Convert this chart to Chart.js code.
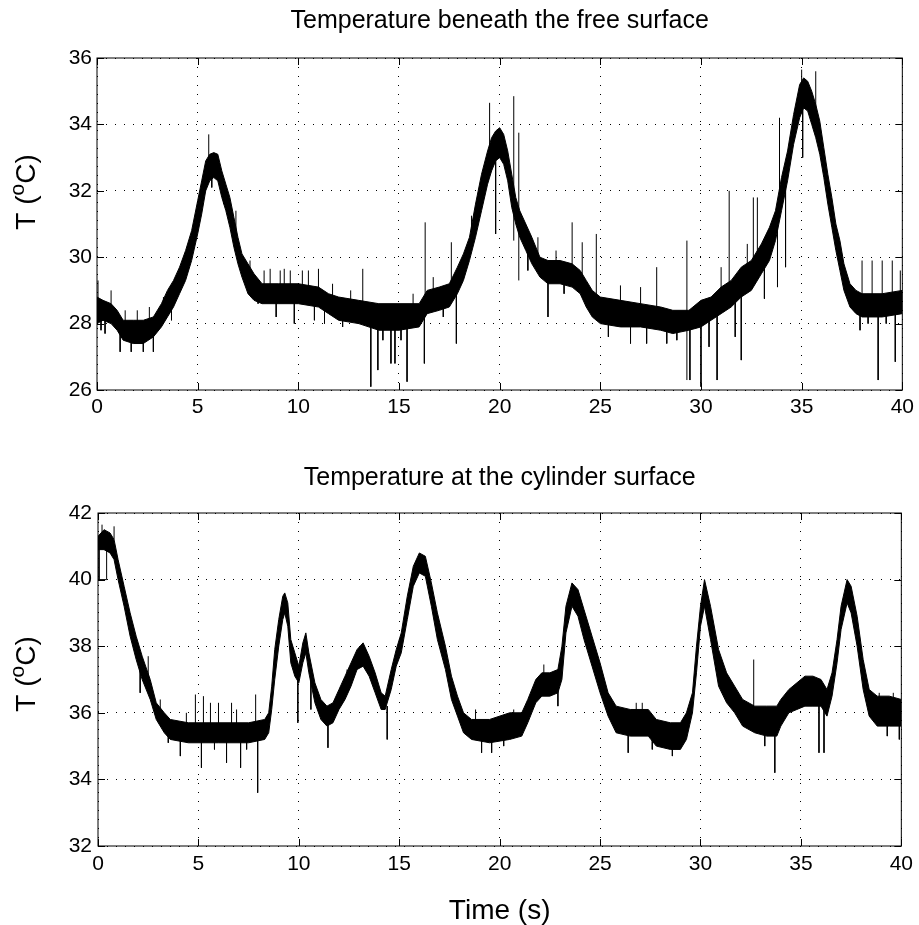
<!DOCTYPE html>
<html>
<head>
<meta charset="utf-8">
<script src="https://cdn.jsdelivr.net/npm/chart.js@4"></script>
<style>
  body { margin: 0; background: #fff; }
  .box { position: absolute; left: 0; width: 919px; }
</style>
</head>
<body>
<div class="box" style="top:0;height:440px"><canvas id="surfChart"></canvas></div>
<div class="box" style="top:440px;height:485px"><canvas id="cylChart"></canvas></div>
<script>
// tick values
const timeTicks = [0, 5, 10, 15, 20, 25, 30, 35, 40];
const surfTempTicks = [26, 28, 30, 32, 34, 36];
const cylTempTicks = [32, 34, 36, 38, 40, 42];

// temperature beneath the free surface: lower / upper edge of the noisy trace
const surfTime = [0, 0.3, 0.7, 1.0, 1.3, 1.8, 2.3, 2.8, 3.2, 3.5, 3.8, 4.1, 4.4, 4.7, 5.0, 5.2, 5.4, 5.6, 5.8, 6.0,
  6.2, 6.4, 6.6, 6.8, 7.0, 7.2, 7.5, 7.8, 8.2, 9, 10, 11, 11.5, 12, 13, 14, 15, 16, 16.4, 17,
  17.5, 17.9, 18.2, 18.5, 18.8, 19.1, 19.4, 19.6, 19.8, 20.0, 20.2, 20.4, 20.6, 20.8, 21.0, 21.3, 21.6, 22.0, 22.4, 23,
  23.6, 24.0, 24.3, 24.6, 25, 26, 27, 28, 28.6, 29.4, 30, 30.5, 31, 31.5, 32, 32.5, 33, 33.4, 33.7, 34.0,
  34.3, 34.6, 34.9, 35.1, 35.3, 35.5, 35.7, 35.9, 36.1, 36.3, 36.5, 36.7, 36.9, 37.1, 37.4, 37.7, 38, 39, 40];
const surfLow = [28.0, 28.1, 28.0, 27.8, 27.5, 27.4, 27.4, 27.6, 27.9, 28.2, 28.5, 28.9, 29.3, 29.9, 30.7, 31.3, 32.0, 32.3, 32.4, 32.3,
  31.8, 31.4, 30.9, 30.3, 29.8, 29.4, 28.9, 28.7, 28.6, 28.6, 28.6, 28.5, 28.3, 28.1, 28.0, 27.8, 27.8, 27.9, 28.3, 28.4,
  28.5, 28.9, 29.3, 29.9, 30.6, 31.4, 32.2, 32.6, 32.9, 33.0, 32.8, 32.3, 31.5, 31.0, 30.6, 30.2, 29.8, 29.4, 29.2, 29.2,
  29.1, 28.9, 28.5, 28.2, 28.0, 27.9, 27.9, 27.8, 27.7, 27.8, 27.9, 28.1, 28.3, 28.5, 28.8, 29.0, 29.5, 29.9, 30.5, 31.4,
  32.3, 33.4, 34.2, 34.5, 34.4, 34.0, 33.6, 33.1, 32.4, 31.6, 30.9, 30.2, 29.6, 29.0, 28.5, 28.3, 28.2, 28.2, 28.3];
const surfHigh = [28.8, 28.7, 28.6, 28.4, 28.1, 28.1, 28.1, 28.2, 28.6, 29.0, 29.3, 29.7, 30.2, 30.8, 31.7, 32.3, 32.9, 33.1, 33.15, 33.1,
  32.6, 32.2, 31.8, 31.2, 30.6, 30.1, 29.8, 29.5, 29.2, 29.2, 29.2, 29.1, 28.9, 28.8, 28.7, 28.6, 28.6, 28.6, 29.0, 29.1,
  29.2, 29.7, 30.1, 30.6, 31.6, 32.5, 33.2, 33.6, 33.8, 33.9, 33.7, 33.2, 32.5, 31.8, 31.4, 31.0, 30.6, 30.0, 29.9, 29.9,
  29.8, 29.6, 29.3, 29.0, 28.8, 28.7, 28.6, 28.5, 28.4, 28.4, 28.7, 28.8, 29.1, 29.3, 29.7, 29.9, 30.4, 30.9, 31.4, 32.4,
  33.2, 34.3, 35.2, 35.4, 35.3, 35.0, 34.6, 34.1, 33.3, 32.5, 31.8, 31.0, 30.5, 29.8, 29.2, 29.0, 28.9, 28.9, 29.0];
// isolated spikes: [time, from, to]
const surfSpikes = [[0.05, 28.4, 29.3], [0.2, 28.4, 27.8], [0.4, 28.2, 27.7], [0.7, 28.4, 29.0], [1.15, 27.9, 27.15],
  [1.4, 27.8, 28.4], [1.7, 27.8, 27.15], [2.0, 27.8, 28.4], [2.3, 27.8, 27.15], [2.6, 27.8, 28.5],
  [2.8, 27.9, 27.15], [3.3, 28.3, 28.8], [3.7, 28.8, 28.1], [4.5, 29.7, 30.3], [5.55, 33.0, 33.7],
  [5.7, 32.7, 32.1], [6.3, 32.0, 31.6], [6.9, 30.6, 31.4], [7.6, 29.2, 29.9], [8.0, 29.0, 28.6],
  [8.3, 29.0, 29.6], [8.6, 28.9, 29.65], [8.9, 28.9, 28.2], [9.1, 28.9, 29.6], [9.3, 28.9, 29.65],
  [9.6, 28.9, 29.6], [9.8, 28.9, 28.0], [10.2, 28.9, 29.6], [10.5, 28.8, 29.6], [10.8, 28.7, 28.1],
  [11.0, 28.8, 29.65], [11.3, 28.6, 28.0], [11.7, 28.6, 29.2], [12.2, 28.5, 27.9], [12.6, 28.4, 29.0],
  [13.2, 28.3, 29.65], [13.6, 28.2, 26.1], [13.95, 28.2, 26.6], [14.2, 28.2, 27.5], [14.6, 28.2, 26.8],
  [14.8, 28.2, 26.8], [15.1, 28.2, 27.5], [15.4, 28.2, 26.25], [15.7, 28.3, 28.9], [16.26, 28.2, 26.8],
  [16.3, 28.5, 31.05], [16.7, 28.7, 29.4], [17.2, 28.8, 28.2], [17.6, 28.9, 30.45], [17.85, 29.2, 27.4],
  [18.6, 30.3, 31.25], [19.5, 32.8, 34.65], [19.8, 33.2, 30.7], [20.7, 30.5, 34.85], [20.95, 29.3, 33.75],
  [21.4, 30.6, 29.6], [21.9, 29.7, 30.6], [22.4, 29.5, 28.2], [22.8, 29.5, 30.2], [23.2, 29.5, 28.9],
  [23.6, 29.5, 31.05], [24.1, 29.3, 30.45], [24.8, 28.6, 30.7], [25.4, 28.3, 27.6], [26.0, 28.3, 29.15],
  [26.5, 28.0, 27.4], [27.0, 28.3, 29.1], [27.3, 28.0, 27.4], [27.8, 28.2, 29.7], [28.3, 28.0, 27.4],
  [28.8, 28.0, 27.5], [29.3, 26.3, 30.5], [29.45, 28.0, 26.3], [30.0, 28.2, 26.1], [30.4, 28.4, 27.3],
  [30.8, 28.3, 26.3], [31.0, 28.6, 29.7], [31.4, 28.8, 32.0], [31.7, 28.9, 27.6], [32.0, 29.1, 26.9],
  [32.3, 29.3, 30.4], [32.6, 29.3, 31.8], [32.8, 29.5, 31.8], [33.15, 29.9, 28.75], [33.8, 30.9, 29.1],
  [33.9, 31.8, 34.2], [34.2, 32.5, 29.7], [35.0, 34.8, 35.65], [35.05, 34.8, 33.0], [35.7, 34.0, 35.6],
  [37.9, 28.5, 27.8], [38.0, 28.6, 29.9], [38.3, 28.5, 28.0], [38.5, 28.6, 29.9], [38.8, 28.5, 26.3],
  [39.0, 28.6, 29.9], [39.2, 28.5, 28.0], [39.5, 28.6, 29.9], [39.65, 28.5, 26.85], [39.9, 28.6, 29.6]];

// temperature at the cylinder surface
const cylTime = [0, 0.3, 0.6, 0.8, 1.0, 1.3, 1.6, 1.9, 2.2, 2.6, 2.9, 3.3, 3.6, 4.5, 6, 7.5, 8.3, 8.5, 8.65, 8.8,
  9.0, 9.2, 9.3, 9.45, 9.6, 9.8, 10.0, 10.2, 10.35, 10.5, 10.8, 11.1, 11.4, 11.7, 12.0, 12.3, 12.6, 12.9, 13.2, 13.5,
  13.8, 14.1, 14.3, 14.6, 14.85, 15.1, 15.4, 15.7, 16.0, 16.3, 16.6, 16.9, 17.3, 17.6, 17.9, 18.2, 18.6, 19.5, 20.5, 21.1,
  21.4, 21.8, 22.1, 22.5, 22.9, 23.1, 23.3, 23.6, 23.9, 24.2, 24.6, 25.0, 25.4, 25.8, 26.5, 27.4, 27.8, 28.5, 29.0, 29.3,
  29.6, 29.8, 30.0, 30.2, 30.5, 30.9, 31.3, 31.7, 32.1, 32.7, 33.3, 33.8, 34.0, 34.4, 34.8, 35.2, 35.6, 36.0, 36.3, 36.55,
  36.8, 37.0, 37.3, 37.5, 37.8, 38.1, 38.4, 38.8, 39.4, 40.0];
const cylLow = [40.9, 40.9, 40.8, 40.6, 40.0, 39.2, 38.3, 37.6, 37.0, 36.4, 35.8, 35.4, 35.2, 35.1, 35.1, 35.1, 35.2, 35.4, 36.1, 37.0,
  38.0, 38.8, 39.0, 38.6, 37.5, 37.1, 36.9, 37.5, 37.8, 37.2, 36.3, 35.8, 35.6, 35.7, 36.1, 36.4, 36.8, 37.3, 37.4, 37.1,
  36.6, 36.1, 36.1, 36.7, 37.4, 37.8, 38.8, 39.8, 40.2, 40.1, 39.2, 38.2, 37.3, 36.4, 35.9, 35.4, 35.2, 35.1, 35.2, 35.3,
  35.7, 36.3, 36.5, 36.5, 36.6, 37.0, 38.4, 39.2, 38.9, 38.2, 37.4, 36.6, 35.9, 35.4, 35.3, 35.3, 35.0, 34.9, 34.9, 35.2,
  36.0, 37.2, 38.6, 39.2, 38.2, 36.8, 36.3, 36.0, 35.6, 35.4, 35.3, 35.3, 35.6, 36.0, 36.1, 36.2, 36.2, 36.2, 35.9, 36.5,
  37.5, 38.5, 39.3, 39.0, 38.0, 36.7, 35.9, 35.6, 35.6, 35.6];
const cylHigh = [41.3, 41.5, 41.4, 41.2, 40.6, 39.8, 39.0, 38.3, 37.7, 37.0, 36.3, 36.0, 35.8, 35.7, 35.7, 35.7, 35.8, 36.0, 36.8, 37.9,
  38.8, 39.5, 39.6, 39.3, 38.2, 37.8, 37.4, 38.1, 38.4, 37.8, 36.9, 36.4, 36.2, 36.3, 36.7, 37.1, 37.5, 37.9, 38.1, 37.7,
  37.2, 36.6, 36.5, 37.3, 37.9, 38.4, 39.5, 40.4, 40.8, 40.7, 39.9, 39.0, 38.0, 37.1, 36.5, 36.0, 35.8, 35.8, 36.0, 36.0,
  36.4, 37.0, 37.2, 37.2, 37.3, 38.0, 39.2, 39.9, 39.7, 39.1, 38.3, 37.5, 36.6, 36.2, 36.1, 36.1, 35.8, 35.7, 35.7, 36.0,
  36.6, 38.0, 39.2, 40.0, 39.2, 37.9, 37.2, 36.8, 36.4, 36.2, 36.2, 36.2, 36.4, 36.7, 36.9, 37.1, 37.1, 37.0, 36.7, 37.2,
  38.2, 39.2, 40.0, 39.8, 38.9, 37.6, 36.7, 36.5, 36.5, 36.4];
const cylSpikes = [[0.2, 41.3, 41.65], [0.8, 41.2, 41.6], [2.1, 37.4, 36.6], [2.5, 37.0, 37.7], [3.1, 36.0, 36.4],
  [3.5, 35.6, 35.1], [4.1, 35.4, 34.7], [4.4, 35.5, 36.0], [4.85, 35.5, 36.55], [5.15, 35.4, 34.35],
  [5.25, 35.5, 36.5], [5.6, 35.5, 36.3], [5.8, 35.4, 34.9], [6.0, 35.5, 36.3], [6.4, 35.4, 34.5],
  [6.65, 35.5, 36.3], [6.9, 35.5, 36.1], [7.1, 35.4, 34.35], [7.4, 35.4, 34.9], [7.85, 35.5, 36.55],
  [7.95, 35.3, 33.6], [9.95, 37.0, 35.7], [10.6, 37.3, 36.1], [11.45, 35.8, 34.95], [12.4, 36.8, 37.3],
  [14.4, 36.2, 35.2], [18.8, 35.5, 36.1], [19.1, 35.4, 34.8], [19.6, 35.4, 34.8], [20.2, 35.5, 35.0],
  [20.7, 35.6, 36.1], [22.2, 37.0, 37.45], [22.9, 37.0, 36.2], [26.4, 35.7, 34.8], [26.8, 35.7, 36.3],
  [27.1, 35.8, 36.3], [27.6, 35.5, 34.9], [28.6, 35.3, 34.7], [32.65, 36.0, 37.6], [33.2, 35.8, 35.0],
  [33.7, 35.6, 34.2], [35.9, 36.5, 34.8], [36.15, 36.5, 34.8], [38.9, 36.0, 36.6], [39.3, 36.0, 35.3],
  [39.6, 36.0, 36.6], [39.9, 36.0, 35.2]];
// the small step drop at the very start of the cylinder trace
const cylStepTime = [0.05, 0.05, 0.43, 0.43];
const cylStepTemp = [41.0, 40.0, 40.0, 41.2];

const FONT = '"Liberation Sans", Arial, Helvetica, sans-serif';

function toPoints(ts, vs) {
  return ts.map((t, i) => ({ x: t, y: vs[i] }));
}

function spikePoints(list) {
  const out = [];
  list.forEach(s => {
    out.push({ x: s[0], y: s[1] }, { x: s[0], y: s[2] }, { x: s[0], y: null });
  });
  return out;
}

// box round the plot, inward ticks and the rotated y label with superscript o
const framePlugin = {
  id: 'frame',
  afterDatasetsDraw(chart, args, opts) {
    const { ctx, chartArea: a, scales } = chart;
    ctx.save();
    ctx.strokeStyle = '#000';
    ctx.lineWidth = 1;
    ctx.strokeRect(a.left, a.top, a.right - a.left, a.bottom - a.top);
    ctx.beginPath();
    scales.x.ticks.forEach(t => {
      const px = Math.round(scales.x.getPixelForValue(t.value)) + 0.5;
      ctx.moveTo(px, a.bottom); ctx.lineTo(px, a.bottom - 7);
      ctx.moveTo(px, a.top); ctx.lineTo(px, a.top + 7);
    });
    scales.y.ticks.forEach(t => {
      const py = Math.round(scales.y.getPixelForValue(t.value)) + 0.5;
      ctx.moveTo(a.left, py); ctx.lineTo(a.left + 7, py);
      ctx.moveTo(a.right, py); ctx.lineTo(a.right - 7, py);
    });
    ctx.stroke();

    ctx.translate(opts.labelX, opts.labelY);
    ctx.rotate(-Math.PI / 2);
    ctx.fillStyle = '#000';
    ctx.textBaseline = 'alphabetic';
    const big = '28px ' + FONT, small = '21px ' + FONT;
    ctx.font = big;
    const w1 = ctx.measureText('T (').width;
    const w3 = ctx.measureText('C)').width;
    ctx.font = small;
    const w2 = ctx.measureText('o').width;
    let x = -(w1 + w2 + w3) / 2;
    ctx.font = big;
    ctx.fillText('T (', x, 0);
    x += w1;
    ctx.font = small;
    ctx.fillText('o', x, -11);
    x += w2;
    ctx.font = big;
    ctx.fillText('C)', x, 0);
    ctx.restore();
  }
};

function makeChart(id, cfg) {
  return new Chart(document.getElementById(id), {
    type: 'line',
    data: {
      datasets: [
        { data: toPoints(cfg.time, cfg.low), borderColor: '#000', borderWidth: 1, fill: false },
        { data: toPoints(cfg.time, cfg.high), borderColor: '#000', borderWidth: 1, backgroundColor: '#000', fill: '-1' },
        { data: spikePoints(cfg.spikes), borderColor: '#000', borderWidth: 1, fill: false }
      ].concat(cfg.extra || [])
    },
    options: {
      responsive: true,
      maintainAspectRatio: false,
      animation: false,
      layout: { padding: { left: 0, right: cfg.padRight, top: 0, bottom: 0 } },
      elements: { point: { radius: 0 }, line: { tension: 0 } },
      plugins: {
        legend: { display: false },
        tooltip: { enabled: false },
        title: {
          display: true,
          fullSize: false, // centre over the plot area, not the canvas
          text: cfg.title,
          color: '#000',
          font: { family: FONT, size: 25, weight: 'normal' },
          padding: cfg.titlePad
        },
        frame: { labelX: 35, labelY: cfg.labelY }
      },
      scales: {
        x: {
          type: 'linear',
          min: 0,
          max: 40,
          afterBuildTicks: s => { s.ticks = timeTicks.map(v => ({ value: v })); },
          afterFit: s => { s.height = cfg.xHeight; },
          grid: { color: '#000', lineWidth: 1, drawTicks: false },
          border: { display: false, dash: [1, 8] },
          ticks: { color: '#000', padding: cfg.xPad, font: { family: FONT, size: 21 } },
          title: {
            display: !!cfg.xTitle,
            text: cfg.xTitle || '',
            color: '#000',
            padding: 0,
            font: { family: FONT, size: 28, lineHeight: 1.0 }
          }
        },
        y: {
          min: cfg.yTicks[0],
          max: cfg.yTicks[cfg.yTicks.length - 1],
          afterBuildTicks: s => { s.ticks = cfg.yTicks.map(v => ({ value: v })); },
          afterFit: s => { s.width = cfg.yWidth; },
          grid: { color: '#000', lineWidth: 1, drawTicks: false },
          border: { display: false, dash: [1, 8] },
          ticks: { color: '#000', padding: cfg.yPad, font: { family: FONT, size: 21 } }
        }
      }
    },
    plugins: [framePlugin]
  });
}

makeChart('surfChart', {
  title: 'Temperature beneath the free surface',
  time: surfTime, low: surfLow, high: surfHigh, spikes: surfSpikes,
  yTicks: surfTempTicks,
  titlePad: { top: 6, bottom: 22 },
  padRight: 15, yWidth: 97, xHeight: 50, xPad: 5, yPad: 5,
  labelY: 192
});

makeChart('cylChart', {
  title: 'Temperature at the cylinder surface',
  time: cylTime, low: cylLow, high: cylHigh, spikes: cylSpikes,
  extra: [{ data: toPoints(cylStepTime, cylStepTemp), borderColor: '#000', borderWidth: 1, fill: false }],
  yTicks: cylTempTicks,
  titlePad: { top: 23, bottom: 20 },
  padRight: 14, yWidth: 98, xHeight: 79, xPad: 6, yPad: 6,
  xTitle: 'Time (s)',
  labelY: 234
});
</script>
</body>
</html>
